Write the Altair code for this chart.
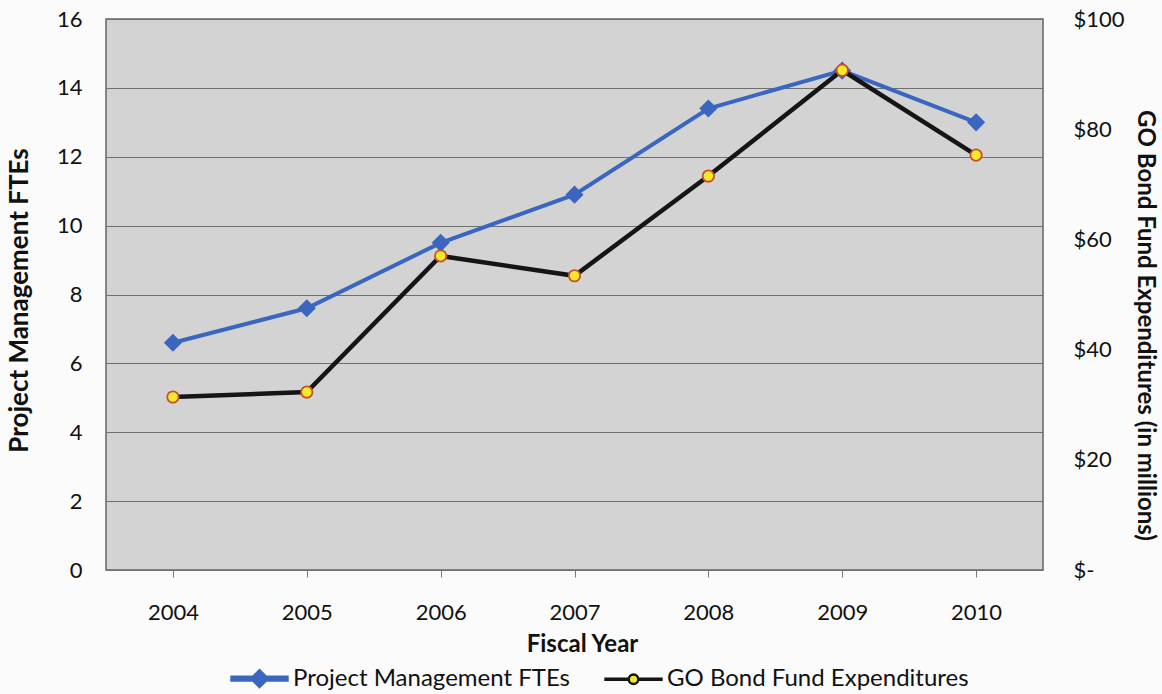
import altair as alt
import pandas as pd

# ---- data ----
years = ["2004", "2005", "2006", "2007", "2008", "2009", "2010"]
fte = [6.6, 7.6, 9.5, 10.9, 13.4, 14.5, 13.0]
go_bond = [31.4, 32.3, 57.0, 53.4, 71.5, 90.7, 75.3]
series_names = ["Project Management FTEs", "GO Bond Fund Expenditures"]
fte_ticks = [0, 2, 4, 6, 8, 10, 12, 14, 16]
go_ticks = [0, 20, 40, 60, 80, 100]

df = pd.DataFrame({"year": years, "fte": fte, "go": go_bond})
legend_df = pd.DataFrame({"series": series_names})

FONT = "Lato"
BLUE = "#3a66c0"
BLACK = "#151515"
YELLOW = "#f2e92c"
RED = "#c8502a"
PLOT_BG = "#d3d3d3"

x_enc = alt.X(
    "year:O",
    scale=alt.Scale(type="point", padding=0.5),
    axis=alt.Axis(
        title="Fiscal Year", labelAngle=0, domain=False, ticks=True, tickSize=7,
        tickColor="#777777", labelPadding=25, labelFontSize=22, labelFont=FONT,
        labelColor="#111111", titleFont=FONT, titleFontSize=24, titleFontWeight="bold",
        titlePadding=9, titleColor="#111111", grid=False, titleX=476, titleAlign="center",
    ),
)

y_left = alt.Y(
    "fte:Q",
    scale=alt.Scale(domain=[0, 16], nice=False),
    axis=alt.Axis(
        title="Project Management FTEs", values=fte_ticks, domain=False, ticks=False,
        labelPadding=24, labelFontSize=22, labelFont=FONT, labelColor="#111111",
        titleFont=FONT, titleFontSize=26, titleFontWeight="bold", titleColor="#111111",
        titlePadding=24, grid=True, gridColor="#6f6f6f", gridWidth=1,
        titleY=281, titleAlign="center",
    ),
)

y_right = alt.Y(
    "go:Q",
    scale=alt.Scale(domain=[0, 100], nice=False),
    axis=alt.Axis(
        orient="right", title="GO Bond Fund Expenditures (in millions)", values=go_ticks,
        labelExpr="datum.value == 0 ? '$-' : '$' + datum.value",
        domain=False, ticks=False, labelPadding=30, labelFontSize=22, labelFont=FONT,
        labelColor="#111111", titleFont=FONT, titleFontSize=24, titleFontWeight="bold",
        titleColor="#111111", titleAngle=90, titlePadding=8, grid=False,
        titleY=306, titleAlign="center",
    ),
)

base = alt.Chart(df)

fte_line = base.mark_line(color=BLUE, strokeWidth=4).encode(x=x_enc, y=y_left)
fte_pts = base.mark_point(shape="diamond", filled=True, size=330, color=BLUE, opacity=1).encode(
    x="year:O", y="fte:Q"
)
go_line = base.mark_line(color=BLACK, strokeWidth=4.5).encode(x="year:O", y=y_right)
go_pts = base.mark_point(
    shape="circle", filled=True, size=130, fill=YELLOW, stroke=RED, strokeWidth=1.8, opacity=1
).encode(x="year:O", y="go:Q")

fte_layer = alt.layer(fte_line, fte_pts)
go_layer = alt.layer(go_line, go_pts)

# legend-only layer (draws no marks; legend entries from explicit domains)
fte_path = ("M-1,-0.07 L-0.23,-0.07 L0,-0.3 L0.23,-0.07 L1,-0.07 L1,0.07 "
            "L0.23,0.07 L0,0.3 L-0.23,0.07 L-1,0.07 Z")
go_path = ("M-1,-0.02 L-0.2,-0.02 L-0.2,0.02 L-1,0.02 Z "
           "M0.2,-0.02 L1,-0.02 L1,0.02 L0.2,0.02 Z "
           "M0.17,0 A0.17,0.17 0 1,1 -0.17,0 A0.17,0.17 0 1,1 0.17,0 Z")

leg = alt.Legend(
    title=None, orient="none", legendX=124, legendY=630, direction="horizontal",
    labelFont=FONT, labelFontSize=24, labelColor="#111111", symbolSize=3136,
    symbolStrokeWidth=2.4, labelOffset=4, columnPadding=30, labelLimit=500,
)
legend_layer = alt.Chart(legend_df).mark_point(filled=True, opacity=1).encode(
    shape=alt.Shape("series:N", scale=alt.Scale(domain=series_names, range=[fte_path, go_path]), legend=leg),
    fill=alt.Fill("series:N", scale=alt.Scale(domain=series_names, range=[BLUE, YELLOW]), legend=leg),
    stroke=alt.Stroke("series:N", scale=alt.Scale(domain=series_names, range=[BLUE, BLACK]), legend=leg),
).transform_filter(alt.datum.series == "none")

chart = (
    alt.layer(fte_layer, go_layer, legend_layer)
    .resolve_scale(y="independent")
    .properties(
        width=937, height=551,
        padding={"left": 106, "top": 19, "right": 119, "bottom": 124},
        autosize=alt.AutoSizeParams(type="none"),
        background="#fbfbfb",
        view=alt.ViewBackground(fill=PLOT_BG, stroke="#666666", strokeWidth=1.5),
    )
    .configure_view(fill=PLOT_BG, stroke="#666666", strokeWidth=1.5)
)

chart.save("out.html", embed_options={"renderer": "svg", "actions": False})
